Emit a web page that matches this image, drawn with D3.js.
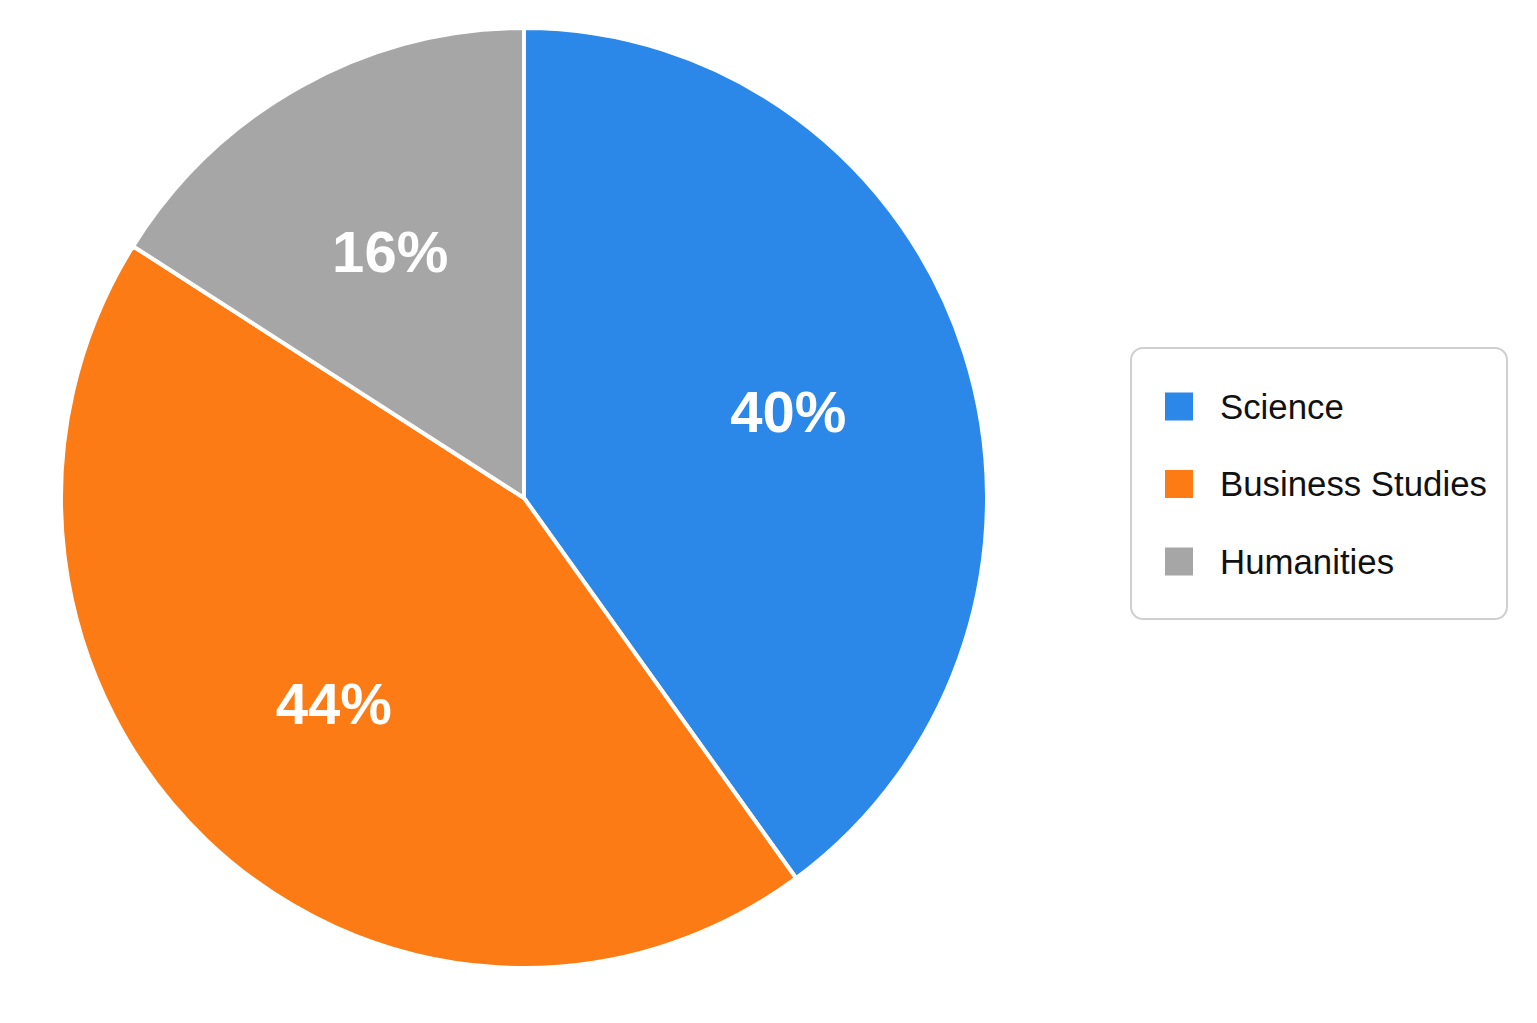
<!DOCTYPE html>
<html>
<head>
<meta charset="utf-8">
<script src="https://cdn.jsdelivr.net/npm/d3@7"></script>
<style>
    html, body { margin: 0; padding: 0; background: #ffffff; }
    svg { display: block; }
</style>
</head>
<body>
<svg id="chart" width="1537" height="1023"></svg>
<script>
var categories = ["Science", "Business Studies", "Humanities"];
var shares = [40, 44, 16];
var colors = ["#2b88e8", "#fd7b14", "#a6a6a6"];

var width = 1537,
    height = 1023,
    cx = 524,
    cy = 498,
    radius = 463,
    yStretch = 470 / 463;   // the reference pie is a touch taller than wide

var svg = d3.select("#chart");

var pie = d3.pie()
    .sort(null)
    .value(function(d) { return d; });

var arc = d3.arc()
    .innerRadius(0)
    .outerRadius(radius);

var labelArc = d3.arc()
    .innerRadius(radius * 0.6)
    .outerRadius(radius * 0.6);

var color = d3.scaleOrdinal()
    .domain(categories)
    .range(colors);

var arcs = pie(shares);

var g = svg.append("g")
    .attr("transform", "translate(" + cx + "," + cy + ")");

// slices
g.append("g")
    .attr("transform", "scale(1," + yStretch + ")")
    .selectAll("path.slice")
    .data(arcs)
    .enter()
    .append("path")
    .attr("class", "slice")
    .attr("d", arc)
    .style("fill", function(d, i) { return color(categories[i]); })
    .style("stroke", "#ffffff")
    .style("stroke-width", 4)
    .style("stroke-linejoin", "round");

// percentage labels
g.selectAll("text.pct")
    .data(arcs)
    .enter()
    .append("text")
    .attr("class", "pct")
    .attr("transform", function(d) {
        var c = labelArc.centroid(d);
        return "translate(" + c[0] + "," + (c[1] * yStretch) + ")";
    })
    .attr("text-anchor", "middle")
    .attr("dy", "0.36em")
    .style("font-family", "'Liberation Sans', Arial, sans-serif")
    .style("font-weight", "bold")
    .style("font-size", "58px")
    .style("fill", "#ffffff")
    .text(function(d) { return d.data + "%"; });

// legend
var legendX = 1131,
    legendY = 348,
    legendW = 376,
    legendH = 271,
    rowStep = 77.5,
    firstRow = 58.5;

var legend = svg.append("g")
    .attr("transform", "translate(" + legendX + "," + legendY + ")");

legend.append("rect")
    .attr("width", legendW)
    .attr("height", legendH)
    .attr("rx", 12)
    .attr("ry", 12)
    .style("fill", "#ffffff")
    .style("stroke", "#cfcfcf")
    .style("stroke-width", 2);

var rowY = d3.scalePoint()
    .domain(categories)
    .range([firstRow, firstRow + rowStep * (categories.length - 1)]);

var rows = legend.selectAll("g.row")
    .data(categories)
    .enter()
    .append("g")
    .attr("class", "row")
    .attr("transform", function(d) { return "translate(0," + rowY(d) + ")"; });

rows.append("rect")
    .attr("x", 34)
    .attr("y", -14)
    .attr("width", 28)
    .attr("height", 28)
    .style("fill", function(d) { return color(d); });

rows.append("text")
    .attr("x", 89)
    .attr("y", 12)
    .style("font-family", "'Liberation Sans', Arial, sans-serif")
    .style("font-size", "34.8px")
    .style("fill", "#111111")
    .text(function(d) { return d; });
</script>
</body>
</html>
